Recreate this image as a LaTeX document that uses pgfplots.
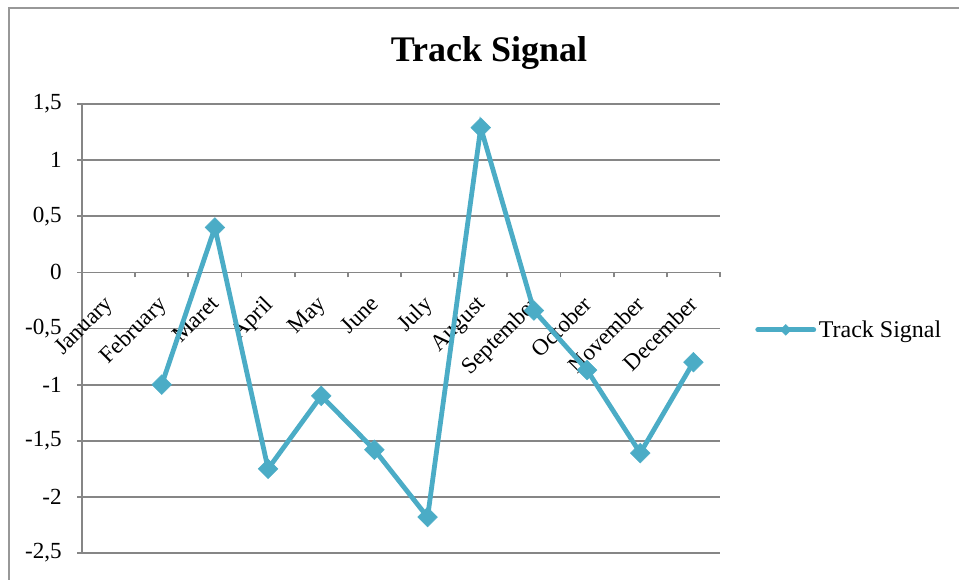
\documentclass[border=0pt]{standalone}
\usepackage{pgfplots}
\pgfplotsset{compat=1.18}
\usepackage{fontspec}
\setmainfont{Liberation Serif}
\definecolor{ser}{HTML}{4BACC6}
\definecolor{gridc}{HTML}{868686}
\begin{document}
\begin{tikzpicture}
\draw[color=gridc!85, line width=1.5pt] (6.75pt,-440pt) -- (6.75pt,-6pt) -- (725pt,-6pt);
\node[font=\fontsize{27}{32}\selectfont\bfseries, anchor=base] at (366.75pt,-46.3pt) {Track Signal};
\begin{axis}[
  set layers,
  at={(61.5pt,-414.75pt)}, anchor=south west,
  scale only axis, width=478.5pt, height=336.75pt,
  xmin=0.5, xmax=12.5, ymin=-2.5, ymax=1.5,
  axis x line=middle, axis y line=left,
  axis line style={-, draw=gridc, line width=1.3pt},
  hide obscured x ticks=false, hide obscured y ticks=false,
  xtick={0.5,1.5,...,12.5},
  x tick label as interval,
  xticklabels={January,February,Maret,April,May,June,July,August,September,October,November,December},
  xticklabel style={xshift=-4pt, yshift=-11pt, rotate=45, anchor=north east, inner sep=1pt},
  yticklabel style={xshift=-8pt},
  ytick={-2.5,-2,...,1.5},
  ymajorgrids,
  major grid style={draw=gridc, line width=1.3pt},
  tick style={draw=gridc, line width=1.3pt},
  tick align=outside,
  major tick length=3.75pt,
  /pgf/number format/use comma,
  /pgf/number format/assume math mode=true,
  tick label style={font=\fontsize{17.3}{20}\selectfont},
  legend style={at={(1.055,0.497)}, anchor=west, draw=none, fill=none,
    font=\fontsize{18}{21}\selectfont, inner sep=0pt},
  legend image code/.code={\draw[mark repeat=2,mark phase=2,#1, mark size=2.8pt, line cap=round]
     plot coordinates {(0pt,0pt) (21pt,0pt) (42pt,0pt)};},
]
\addplot[color=ser, line width=3.6pt, mark=square*, mark size=5.2pt,
  mark options={solid, rotate=45, fill=ser, draw=ser, line width=0.4pt}]
  coordinates {
  (2,-1.00) (3,0.40) (4,-1.75) (5,-1.10) (6,-1.58) (7,-2.18)
  (8,1.29) (9,-0.34) (10,-0.87) (11,-1.61) (12,-0.80)
  };
\addlegendentry{Track Signal}
\end{axis}
\pgfresetboundingbox
\useasboundingbox (0pt,0pt) rectangle (719.25pt,-434.25pt);
\end{tikzpicture}
\end{document}
